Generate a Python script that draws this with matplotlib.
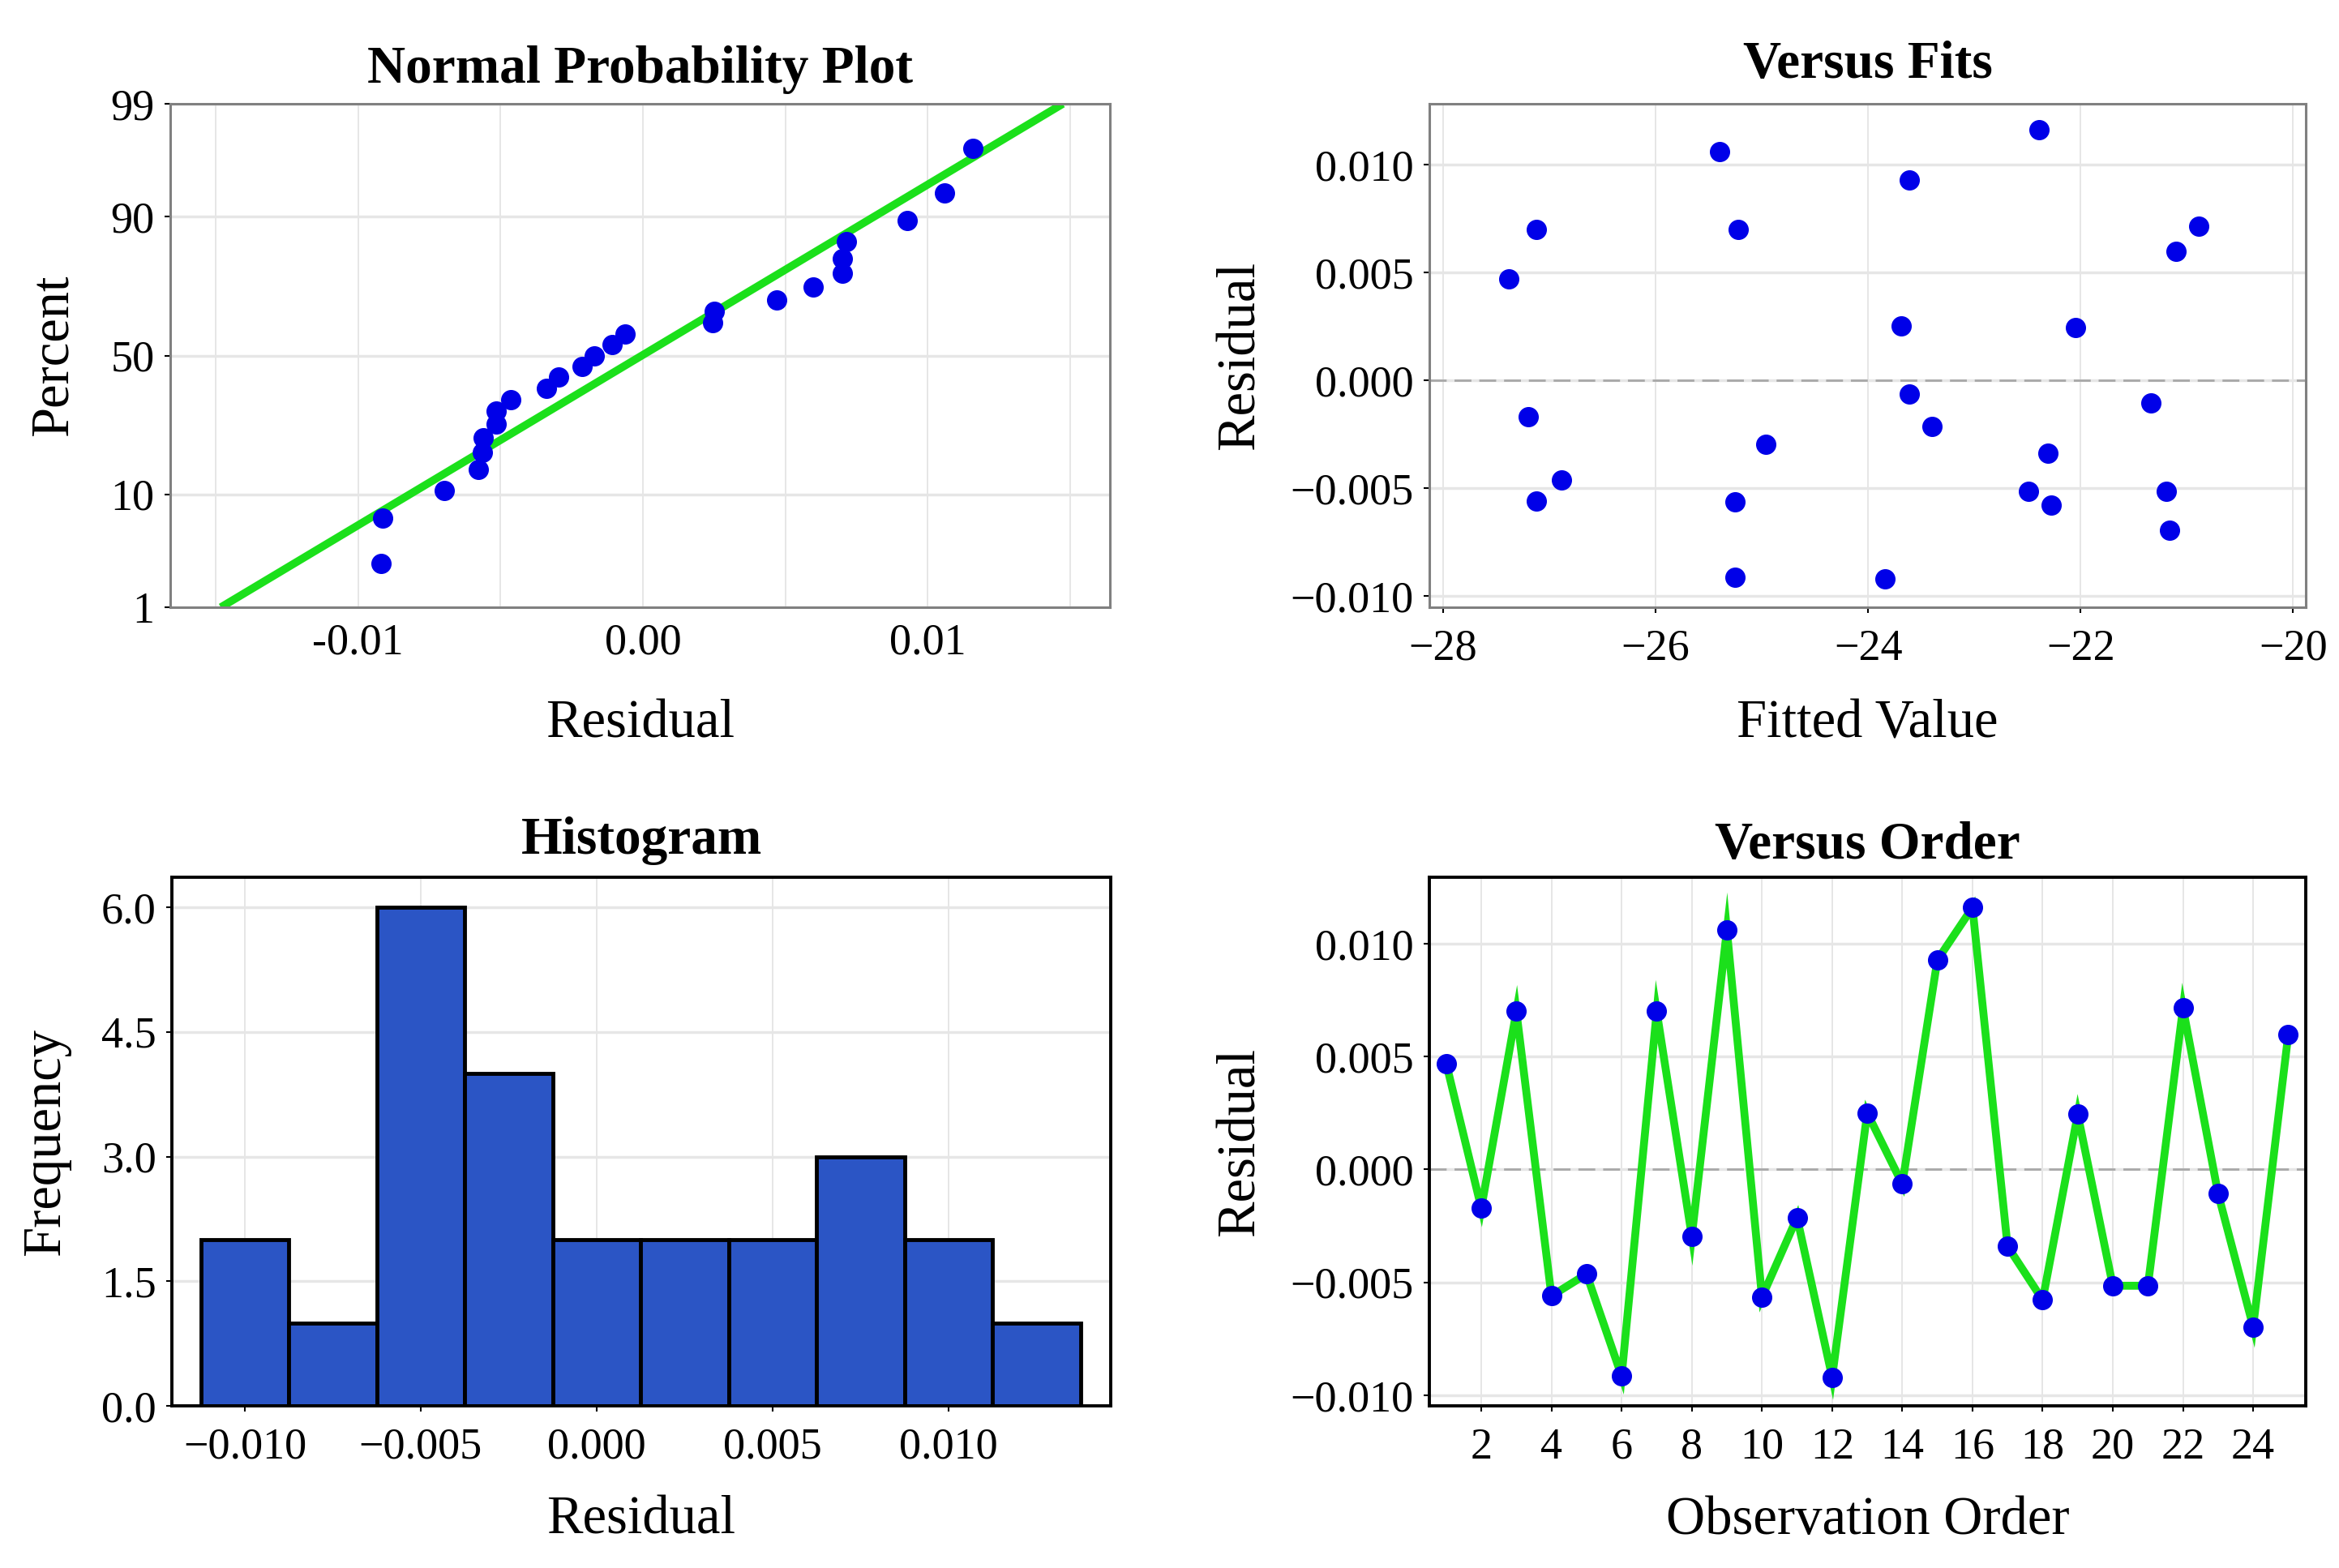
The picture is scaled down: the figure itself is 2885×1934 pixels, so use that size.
import numpy as np
import matplotlib
matplotlib.use("Agg")
import matplotlib.pyplot as plt
from statistics import NormalDist

plt.rcParams['font.family'] = ['Liberation Serif', 'DejaVu Serif']

# residuals in observation order
order = np.arange(1, 26)
resid = np.array([0.00470, -0.00171, 0.00700, -0.00560, -0.00463, -0.00915, 0.00700,
                  -0.00296, 0.01060, -0.00565, -0.00213, -0.00920, 0.00250, -0.00064,
                  0.00928, 0.01160, -0.00340, -0.00578, 0.00244, -0.00515, -0.00515,
                  0.00715, -0.00107, -0.00697, 0.00597])
fitted = np.array([-27.38, -27.20, -27.12, -27.12, -26.89, -25.25, -25.22, -24.96,
                   -25.40, -25.25, -23.40, -23.84, -23.69, -23.61, -23.61, -22.39,
                   -22.31, -22.28, -22.05, -22.49, -21.19, -20.89, -21.34, -21.16,
                   -21.10])
hist_edges = np.linspace(-0.01125, 0.01375, 11)
pct_ticks = [1, 10, 50, 90, 99]

BLUE = '#0000E8'
GREEN = '#1BE01B'
GRID = '#E6E6E6'
TICK_FS = 39
LAB_FS = 48
TITLE_FS = 47
MS = 17

nd = NormalDist()
def z(p):
    return np.array([nd.inv_cdf(v / 100.0) for v in np.atleast_1d(p)])


def style(ax, spine_col, spine_w):
    for s in ax.spines.values():
        s.set_color(spine_col)
        s.set_linewidth(spine_w)
    ax.tick_params(labelsize=TICK_FS, length=5, width=1.5, pad=9, color='black')
    ax.tick_params(axis='x', pad=14)
    ax.set_axisbelow(True)
    ax.grid(axis='y', color=GRID, lw=2.5)
    ax.grid(axis='x', color=GRID, lw=1.4)


fig = plt.figure(figsize=(28.85, 19.34), dpi=100)

# ---- Normal probability plot
ax1 = fig.add_axes([0.0728, 0.6127, 0.4017, 0.3211])
style(ax1, '#808080', 2.2)
srt = np.sort(resid)
n = len(srt)
pct = (np.arange(1, n + 1) - 0.3) / (n + 0.4) * 100
mu, sd = resid.mean(), resid.std(ddof=1)
zl = z([1, 99])
ax1.plot(mu + zl * sd, zl, color=GREEN, lw=7, solid_capstyle='butt', zorder=2)
ax1.plot(srt, z(pct), 'o', color=BLUE, ms=MS, zorder=3)
ax1.set_xlim(-0.0166, 0.0164)
ax1.set_ylim(zl[0], zl[1])
ax1.set_yticks(z(pct_ticks))
ax1.set_yticklabels([str(p) for p in pct_ticks])
ax1.set_xticks([-0.015, -0.01, -0.005, 0, 0.005, 0.01, 0.015])
ax1.set_xticklabels(['', '-0.01', '', '0.00', '', '0.01', ''])
ax1.tick_params(axis='x', length=0)
ax1.set_title('Normal Probability Plot', fontsize=TITLE_FS, fontweight='bold', y=1.068, pad=0, va='center')
ax1.set_xlabel('Residual', fontsize=LAB_FS)
ax1.set_ylabel('Percent', fontsize=LAB_FS)
ax1.xaxis.set_label_coords(0.5, -0.183)
ax1.yaxis.set_label_coords(-0.098, 0.5)

# ---- Versus fits
ax2 = fig.add_axes([0.6111, 0.6127, 0.3747, 0.3211])
style(ax2, '#808080', 2.2)
ax2.axhline(0, color='#A8A8A8', lw=2, dashes=(7.5, 3.5), zorder=1)
ax2.plot(fitted, resid, 'o', color=BLUE, ms=MS, zorder=3)
ax2.set_xlim(-28.13, -19.88)
ax2.set_ylim(-0.01053, 0.01282)
ax2.set_xticks([-28, -26, -24, -22, -20])
ax2.set_yticks([-0.010, -0.005, 0.0, 0.005, 0.010])
ax2.set_yticklabels(['\u22120.010', '\u22120.005', '0.000', '0.005', '0.010'])
ax2.set_title('Versus Fits', fontsize=TITLE_FS, fontweight='bold', y=1.078, pad=0, va='center')
ax2.set_xlabel('Fitted Value', fontsize=LAB_FS)
ax2.set_ylabel('Residual', fontsize=LAB_FS)
ax2.xaxis.set_label_coords(0.5, -0.183)
ax2.yaxis.set_label_coords(-0.187, 0.5)

# ---- Histogram
ax3 = fig.add_axes([0.0735, 0.1034, 0.4014, 0.3371])
style(ax3, 'black', 2.8)
ax3.hist(resid, bins=hist_edges, color='#2B55C5', edgecolor='black', lw=3.5, zorder=2)
ax3.set_xlim(-0.01207, 0.01461)
ax3.set_ylim(0, 6.36)
ax3.set_xticks([-0.010, -0.005, 0.0, 0.005, 0.010])
ax3.set_xticklabels(['\u22120.010', '\u22120.005', '0.000', '0.005', '0.010'])
ax3.set_yticks([0, 1.5, 3.0, 4.5, 6.0])
ax3.set_yticklabels(['0.0', '1.5', '3.0', '4.5', '6.0'])
ax3.set_title('Histogram', fontsize=TITLE_FS, fontweight='bold', y=1.069, pad=0, va='center')
ax3.set_xlabel('Residual', fontsize=LAB_FS)
ax3.set_ylabel('Frequency', fontsize=LAB_FS)
ax3.xaxis.set_label_coords(0.5, -0.17)
ax3.yaxis.set_label_coords(-0.108, 0.5)

# ---- Versus order
ax4 = fig.add_axes([0.6111, 0.1034, 0.3747, 0.3371])
style(ax4, 'black', 2.8)
ax4.axhline(0, color='#A8A8A8', lw=2, dashes=(7.5, 3.5), zorder=1)
ax4.plot(order, resid, color=GREEN, lw=7, solid_joinstyle='miter', zorder=2)
ax4.plot(order, resid, 'o', color=BLUE, ms=MS, zorder=3)
ax4.set_xlim(0.52, 25.5)
ax4.set_ylim(-0.01047, 0.01294)
ax4.set_xticks(np.arange(2, 25, 2))
ax4.set_yticks([-0.010, -0.005, 0.0, 0.005, 0.010])
ax4.set_yticklabels(['\u22120.010', '\u22120.005', '0.000', '0.005', '0.010'])
ax4.set_title('Versus Order', fontsize=TITLE_FS, fontweight='bold', y=1.06, pad=0, va='center')
ax4.set_xlabel('Observation Order', fontsize=LAB_FS)
ax4.set_ylabel('Residual', fontsize=LAB_FS)
ax4.xaxis.set_label_coords(0.5, -0.17)
ax4.yaxis.set_label_coords(-0.187, 0.5)

fig.savefig('out.png', dpi=100)
